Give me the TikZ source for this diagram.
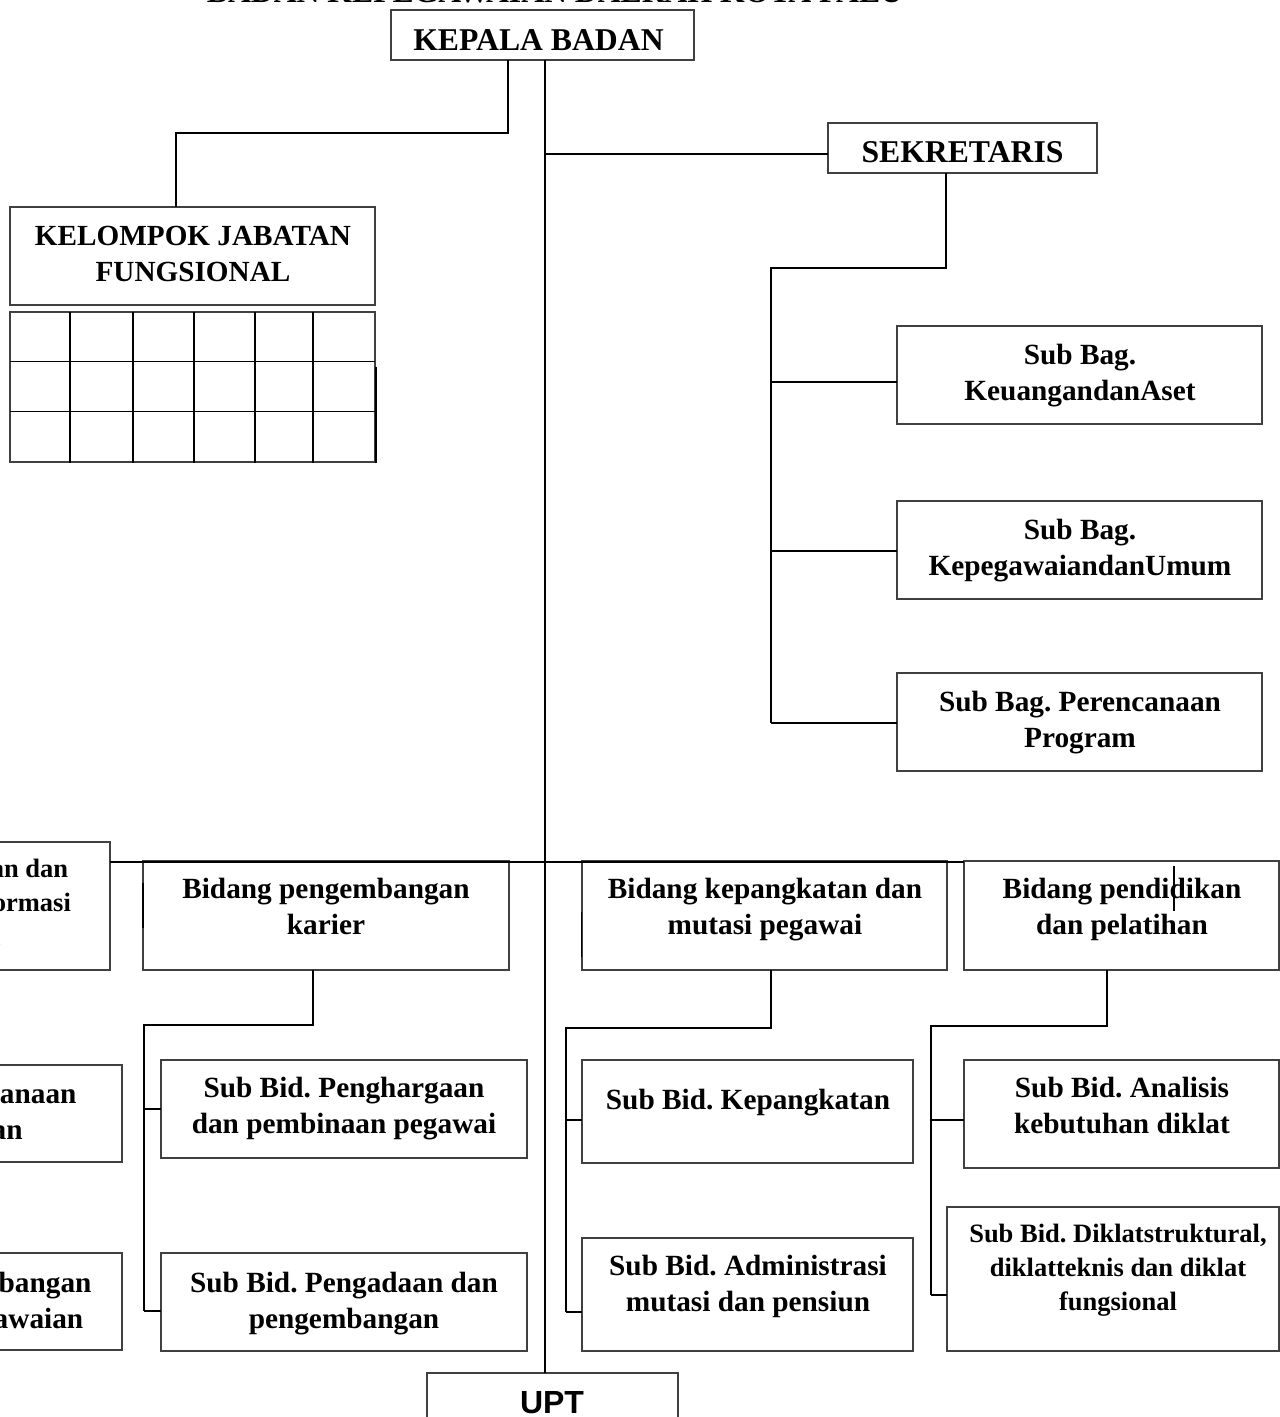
\documentclass[tikz,border=0pt]{standalone}
\usepackage{fontspec}
\setmainfont{Liberation Serif}
\newfontfamily\uptfont{Liberation Sans}
\frenchspacing
\newcommand\ml[1]{\begin{tabular}[t]{@{}c@{}}#1\end{tabular}}
\newcommand\mybox[5]{\node[box, minimum width={(#4)-(#2)}, minimum height={(#5)-(#3)}] (#1) at ({((#2)+(#4))/2},{((#3)+(#5))/2}) {};}
\tikzset{
  box/.style={draw=black!75, line width=1.3pt, rectangle, outer sep=0pt, inner sep=0pt},
  conn/.style={draw=black, line width=2pt},
  gridline/.style={draw=black, line width=1.5pt},
  straymark/.style={draw=black, line width=1.5pt},
  lblA/.style={anchor=base, inner sep=0pt, font=\fontsize{29.3}{36.5}\selectfont\bfseries},
  lblB/.style={anchor=base, inner sep=0pt, font=\fontsize{26.5}{34}\selectfont\bfseries},
  lblC/.style={anchor=base, inner sep=0pt, font=\fontsize{31.7}{38}\selectfont\bfseries},
  lblK/.style={anchor=base, inner sep=0pt, font=\fontsize{29.2}{36.7}\selectfont\bfseries},
  lblU/.style={anchor=base, inner sep=0pt, font=\uptfont\fontsize{32}{38}\selectfont\bfseries},
}
\begin{document}
\begin{tikzpicture}[x=1pt,y=-1pt]
\useasboundingbox (0,0) rectangle (1280,1417);
\fill[white] (0,0) rectangle (1280,1417);

% boxes
\mybox{kepala}{391}{10}{694}{60}
\mybox{sekr}{828}{123}{1097}{173}
\mybox{kjf}{10}{207}{375}{305}
\mybox{sb1}{897}{326}{1262}{424}
\mybox{sb2}{897}{501}{1262}{599}
\mybox{sb3}{897}{673}{1262}{771}
\mybox{bidL}{-260}{842}{110}{970}
\mybox{bidK}{143}{861}{509}{970}
\mybox{bidM}{582}{861}{947}{970}
\mybox{bidP}{964}{861}{1279}{970}
\mybox{subL1}{-245}{1065}{122}{1162}
\mybox{subL2}{-245}{1253}{122}{1350}
\mybox{subK1}{161}{1060}{527}{1158}
\mybox{subK2}{161}{1253}{527}{1351}
\mybox{subM1}{582}{1060}{913}{1163}
\mybox{subM2}{582}{1238}{913}{1351}
\mybox{subP1}{964}{1060}{1279}{1168}
\mybox{subP2}{947}{1207}{1279}{1351}
\mybox{upt}{427}{1373}{678}{1450}

% grid under Kelompok Jabatan Fungsional
\draw[box] (10,312) rectangle (375,462);
\foreach \yy in {361.5,411.5} \draw[gridline] (10,\yy) -- (375,\yy);
\foreach \xx in {70,133,194,255,313} \draw[gridline] (\xx,312) -- (\xx,463);
\draw[gridline] (376,367) -- (376,463);

% connectors
\draw[conn] (508,0 |- kepala.south) |- (176,133) -- (176,0 |- kjf.north);
\draw[conn] (545,0 |- kepala.south) -- (545,0 |- upt.north);
\draw[conn] (545,154) -- (sekr.west |- 545,154);
\draw[conn] (946,0 |- sekr.south) |- (771,268) -- (771,723);
\draw[conn] (771,382) -- (sb1.west |- 771,382);
\draw[conn] (771,551) -- (sb2.west |- 771,551);
\draw[conn] (771,723) -- (sb3.west |- 771,723);
\draw[conn] (bidL.east |- 0,862) -- (bidP.west |- 0,862);
\draw[conn] (313,0 |- bidK.south) |- (144,1025) -- (144,1311);
\draw[conn] (144,1109) -- (subK1.west |- 144,1109);
\draw[conn] (144,1311) -- (subK2.west |- 144,1311);
\draw[conn] (771,0 |- bidM.south) |- (566,1028) -- (566,1312);
\draw[conn] (566,1120) -- (subM1.west |- 566,1120);
\draw[conn] (566,1312) -- (subM2.west |- 566,1312);
\draw[conn] (1107,0 |- bidP.south) |- (931,1026) -- (931,1295);
\draw[conn] (931,1120) -- (subP1.west |- 931,1120);
\draw[conn] (931,1295) -- (subP2.west |- 931,1295);

% stray marks
\draw[straymark, line width=2.2pt] (143,883) -- (143,928);
\draw[straymark] (581.5,912) -- (581.5,957);
\draw[straymark] (1174,866) -- (1174,911);

% texts
\node[lblC] (title) at (555,2) {BADAN KEPEGAWAIAN DAERAH KOTA PALU};
\node[lblC] (t-kepala) at (538.5,50) {KEPALA BADAN};
\node[lblC] (t-sekr) at (962.5,162.5) {SEKRETARIS};
\node[lblK] (t-kjf) at (193,245) {\ml{KELOMPOK JABATAN\\FUNGSIONAL}};
\node[lblA] (t-sb1) at (1080,364) {\ml{Sub Bag.\\KeuangandanAset}};
\node[lblA] (t-sb2) at (1080,539) {\ml{Sub Bag.\\KepegawaiandanUmum}};
\node[lblA] (t-sb3) at (1080,711) {\ml{Sub Bag. Perencanaan\\Program}};
\node[lblB] (t-bidL) at (-73,877) {\ml{Bidang perencanaan dan\\pengembangan informasi\\kepegawaian}};
\node[lblA] (t-bidK) at (326,898) {\ml{Bidang pengembangan\\karier}};
\node[lblA] (t-bidM) at (765,898) {\ml{Bidang kepangkatan dan\\mutasi pegawai}};
\node[lblA] (t-bidP) at (1122,898) {\ml{Bidang pendidikan\\dan pelatihan}};
\node[lblA] (t-subL1) at (-62,1103) {\ml{Sub Bid. Perencanaan\\Kepegawaian}};
\node[lblA] (t-subL2) at (-62,1292) {\ml{Sub Bid. Pengembangan\\informasi kepegawaian}};
\node[lblA] (t-subK1) at (344,1097) {\ml{Sub Bid. Penghargaan\\dan pembinaan pegawai}};
\node[lblA] (t-subK2) at (344,1292) {\ml{Sub Bid. Pengadaan dan\\pengembangan}};
\node[lblA] (t-subM1) at (748,1109) {Sub Bid. Kepangkatan};
\node[lblA] (t-subM2) at (748,1275) {\ml{Sub Bid. Administrasi\\mutasi dan pensiun}};
\node[lblA] (t-subP1) at (1122,1097) {\ml{Sub Bid. Analisis\\kebutuhan diklat}};
\node[lblB] (t-subP2) at (1118,1242) {\ml{Sub Bid. Diklatstruktural,\\diklatteknis dan diklat\\fungsional}};
\node[lblU] (t-upt) at (552,1413) {UPT};
\end{tikzpicture}
\end{document}
